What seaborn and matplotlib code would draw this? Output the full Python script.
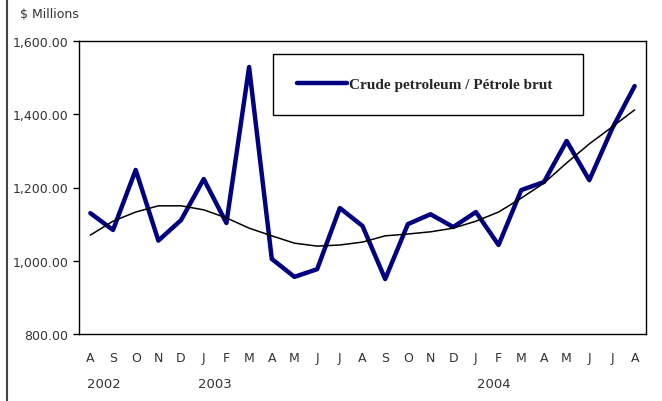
import numpy as np
import pandas as pd
import matplotlib.pyplot as plt
import seaborn as sns
from matplotlib.lines import Line2D

# months Aug 2002 - Aug 2004
months = ["A", "S", "O", "N", "D", "J", "F", "M", "A", "M", "J", "J", "A",
          "S", "O", "N", "D", "J", "F", "M", "A", "M", "J", "J", "A"]
crude = [1130, 1084, 1248, 1055, 1111, 1223, 1103, 1529, 1005, 956, 977, 1144, 1095,
         950, 1100, 1127, 1092, 1133, 1043, 1193, 1215, 1327, 1220, 1360, 1477]
trend = [1070, 1108, 1133, 1150, 1150, 1139, 1117, 1089, 1068, 1048, 1040, 1043, 1051,
         1068, 1073, 1079, 1089, 1108, 1133, 1171, 1212, 1267, 1319, 1365, 1412]
years = ["2002", "2003", "2004"]
year_pos = [0.6, 5.5, 17.8]

df = pd.DataFrame({"x": np.arange(len(months)), "crude": crude, "trend": trend})

sns.set_style("white")
plt.rcParams["font.family"] = ["DejaVu Sans"]

fig = plt.figure(figsize=(6.62, 4.02), dpi=100)
ax = fig.add_axes([79 / 662, 1 - 335 / 402, 567 / 662, 293 / 402])

sns.lineplot(data=df, x="x", y="crude", ax=ax, color="#000080", linewidth=3.2,
             label="Crude petroleum / Pétrole brut")
sns.lineplot(data=df, x="x", y="trend", ax=ax, color="black", linewidth=1.1)

ax.set_xlim(-0.5, len(months) - 0.5)
ax.set_ylim(800, 1600)
ax.set_yticks([800, 1000, 1200, 1400, 1600])
ax.set_yticklabels([f"{v:,.2f}" for v in [800, 1000, 1200, 1400, 1600]],
                   fontsize=9, color="#333333")
ax.set_xticks(df["x"])
ax.set_xticklabels(months, fontsize=9, color="#333333")
ax.tick_params(axis="x", which="major", length=0, pad=12)
ax.set_xticks(np.arange(-0.5, len(months)), minor=True)
ax.tick_params(axis="x", which="minor", length=7, direction="inout", width=1, color="black")
ax.tick_params(axis="y", which="major", length=4, direction="out", width=1, color="black", left=True)
ax.set_xlabel("")
ax.set_ylabel("")
for s in ax.spines.values():
    s.set_color("black")
    s.set_linewidth(1)

for yr, p in zip(years, year_pos):
    ax.text(p, -0.17, yr, transform=ax.get_xaxis_transform(), ha="center", va="center",
            fontsize=9.5, color="#333333")

leg = ax.legend(loc="center", bbox_to_anchor=(0.342, 0.747, 0.547, 0.212), mode="expand",
                borderaxespad=0, borderpad=1.55, handlelength=3.3, handletextpad=0.1,
                fancybox=False, edgecolor="black", framealpha=1,
                prop={"family": "Liberation Serif", "weight": "bold", "size": 11})
leg.get_frame().set_linewidth(1)

fig.text(20 / 662, 1 - 15 / 402, "$ Millions", fontsize=9, color="#333333", va="center")
fig.add_artist(Line2D([7 / 662, 7 / 662], [0, 1], color="#444444", linewidth=1.5))

fig.savefig("out.png", dpi=100)
